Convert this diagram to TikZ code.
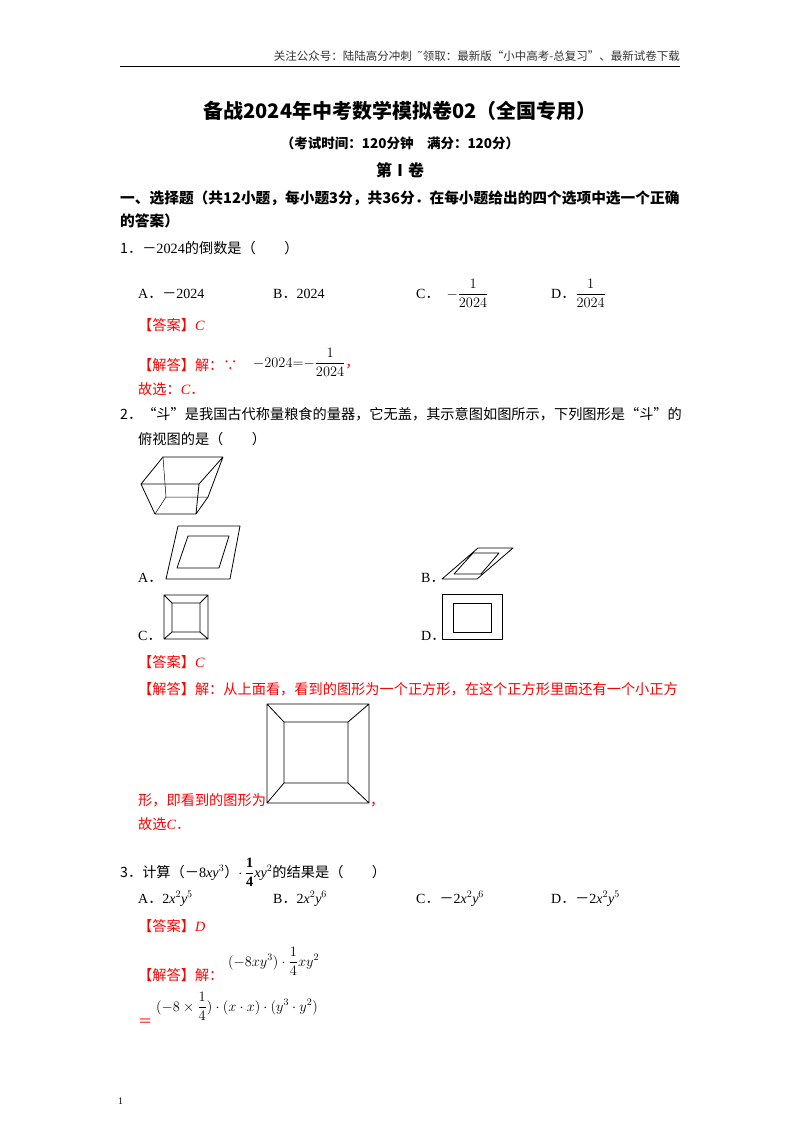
\documentclass[tikz,border=0pt]{standalone}
\usepackage{amsmath}
\usepackage{fontspec}
\setmainfont{Liberation Serif}
\newfontfamily\cjk{Noto Sans CJK SC}
\newfontfamily\dv{DejaVu Sans}
\newcommand\fdot{{\cjk ．}}
\newcommand\fmin{{\cjk －}}
\begin{document}
\begin{tikzpicture}[x=1pt,y=-1pt,
  t/.style={anchor=base west,inner sep=0pt,font=\fontsize{14.2}{16}\selectfont\cjk},
  o/.style={anchor=base west,inner sep=0pt,font=\fontsize{14}{16}\selectfont},
  r/.style={t,text=red},
  fig/.style={line width=0.8pt,line join=round}]
\useasboundingbox[fill=white] (0,0) rectangle (800,1132);
% header
\node[t,anchor=base east,font=\fontsize{11.5}{12}\selectfont\cjk,text=black!80] (hdr) at (680,60) {关注公众号：陆陆高分冲刺\ \ {\dv ˜}领取：最新版“小中高考-总复习”、最新试卷下载};
\draw[line width=0.8pt] (120,66) -- (680,66);
\node[t,anchor=base,font=\fontsize{20}{22}\selectfont\cjk\bfseries] (title) at (400,118) {备战2024年中考数学模拟卷02（全国专用）};
\node[t,anchor=base,font=\fontsize{13.5}{15}\selectfont\cjk\bfseries] (sub) at (400,148) {（考试时间：120分钟\quad 满分：120分）};
\node[t,anchor=base,font=\fontsize{16}{17}\selectfont\cjk\bfseries] (vol) at (400,176) {第Ⅰ卷};
\node[t,font=\fontsize{14.7}{16}\selectfont\cjk\bfseries] (s1) at (120,203) {一、选择题（共12小题，每小题3分，共36分．在每小题给出的四个选项中选一个正确};
\node[t,font=\fontsize{14.7}{16}\selectfont\cjk\bfseries] (s2) at (120,226) {的答案）};
% Q1
\node[t] (q1) at (120,253) {1．{\rmfamily\fmin2024}的倒数是（\qquad）};
\node[o] (a1) at (138,298) {A\fdot\fmin2024};
\node[o] (b1) at (273,298) {B\fdot 2024};
\node[o] (c1) at (416,298) {C\fdot\ \ $-\dfrac{1}{2024}$};
\node[o] (d1) at (551,298) {D\fdot$\dfrac{1}{2024}$};
\node[r] (ans1) at (138,330) {【答案】\textit{\rmfamily C}};
\node[r] (sol1) at (138,370) {【解答】解：∵};
\node[o] (sol1m) at (253,367) {$-2024{=}{-}\dfrac{1}{2024}$\textcolor{red}{\cjk ，}};
\node[r] (sel1) at (138,394) {故选：\textit{\rmfamily C}．};
% Q2
\node[t] (q2) at (120,419) {2．“斗”是我国古代称量粮食的量器，它无盖，其示意图如图所示，下列图形是“斗”的};
\node[t] (q2b) at (138,444) {俯视图的是（\qquad）};
% bucket
\coordinate (P1) at (163,457); \coordinate (P2) at (223,457); \coordinate (P3) at (141,484);
\coordinate (P4) at (199,484); \coordinate (P5) at (166,497); \coordinate (P6) at (208,497);
\coordinate (P7) at (155,514); \coordinate (P8) at (196,514);
\draw[fig] (P1)--(P2)--(P4)--(P3)--cycle (P3)--(P7)--(P8)--(P4) (P2)--(P6)--(P8);
\draw[fig,line width=0.5pt] (P1)--(P5)--(P6) (P5)--(P7);
% options
\node[o] (oa) at (138,582) {A\fdot};
\draw[fig] (178,526)--(240,526)--(230,579)--(166,579)--cycle (188,536)--(229,536)--(219,568)--(177,568)--cycle;
\node[o] (ob) at (421,582) {B\fdot};
\draw[fig] (478,548)--(513,548)--(477,579)--(442,579)--cycle (473,553)--(499,553)--(481,574)--(454,574)--cycle;
\node[o] (oc) at (138,640) {C\fdot};
\draw[fig] (164,595) rectangle (208,639) (172,603) rectangle (200,632)
  (164,595)--(172,603) (208,595)--(200,603) (164,639)--(172,632) (208,639)--(200,632);
\node[o] (od) at (421,640) {D\fdot};
\draw[fig] (442,594) rectangle (502,639) (453,603) rectangle (491,632);
\node[r] (ans2) at (138,667) {【答案】\textit{\rmfamily C}};
\node[r] (sol2) at (138,694) {【解答】解：从上面看，看到的图形为一个正方形，在这个正方形里面还有一个小正方};
\draw[fig] (267,704) rectangle (369,803) (284,722) rectangle (348,783)
  (267,704)--(284,722) (369,704)--(348,722) (267,803)--(284,783) (369,803)--(348,783);
\node[r] (sol2b) at (138,805) {形，即看到的图形为};
\node[r] (com2) at (370,805) {，};
\node[r] (sel2) at (138,829) {故选\textit{\rmfamily C}．};
% Q3
\node[t] (q3) at (120,877) {3．计算（{\rmfamily\fmin 8\textit{xy}$^{3}$}）$\cdot$\,$\dfrac{\mathbf{1}}{\mathbf{4}}${\rmfamily\textit{xy}$^{2}$}的结果是（\qquad）};
\node[o] (a3) at (138,903) {A\fdot 2\textit{x}$^2$\textit{y}$^5$};
\node[o] (b3) at (273,903) {B\fdot 2\textit{x}$^2$\textit{y}$^6$};
\node[o] (c3) at (416,903) {C\fdot\fmin 2\textit{x}$^2$\textit{y}$^6$};
\node[o] (d3) at (551,903) {D\fdot\fmin 2\textit{x}$^2$\textit{y}$^5$};
\node[r] (ans3) at (138,931) {【答案】\textit{\rmfamily D}};
\node[r] (sol3) at (138,980) {【解答】解：};
\node[o] (sol3m) at (228,966) {$(-8xy^{3})\cdot\dfrac{1}{4}xy^{2}$};
\node[r] (eq3) at (138,1026) {＝};
\node[o] (sol3n) at (156,1011) {$(-8\times\dfrac{1}{4})\cdot(x\cdot x)\cdot(y^{3}\cdot y^{2})$};
\node[o,font=\fontsize{10}{12}\selectfont] (pg) at (118,1104) {1};
\end{tikzpicture}
\end{document}
